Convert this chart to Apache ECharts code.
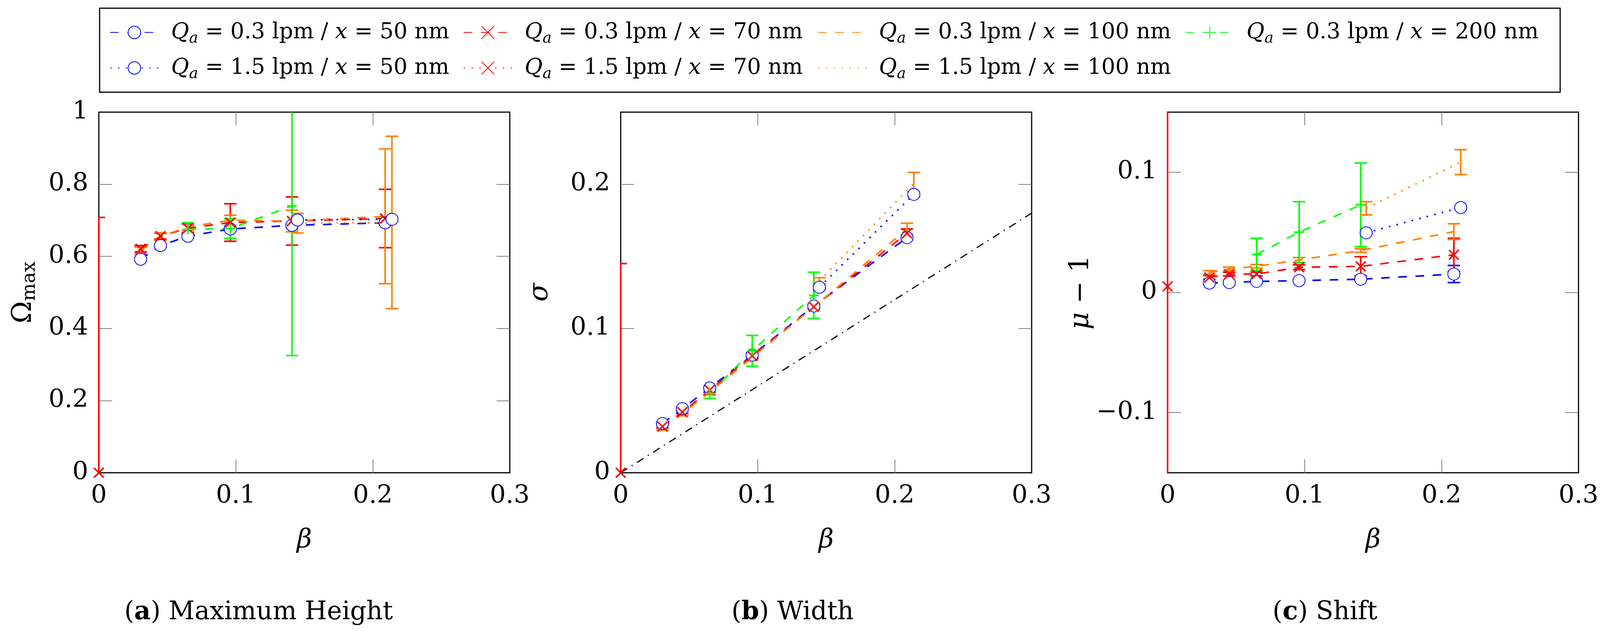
<!DOCTYPE html>
<html>
<head>
<meta charset="utf-8">
<title>Peak height, width and shift vs beta</title>
<script src="https://cdn.jsdelivr.net/npm/echarts@6/dist/echarts.min.js"></script>
<style>
  html, body { margin: 0; padding: 0; background: #fff; overflow: hidden; }
  #chart { width: 100vw; height: 100vh; }
</style>
</head>
<body>
<div id="chart"></div>
<script>
// beta positions of the measurements
var betaSlow = [0.0305, 0.045, 0.065, 0.096, 0.141, 0.209];   // Qa = 0.3 lpm
var betaGreen = [0.065, 0.096, 0.141];                        // Qa = 0.3 lpm, x = 200 nm
var betaFast = [0.145, 0.214];                                // Qa = 1.5 lpm
var betaZero = [0];                                           // Qa = 1.5 lpm, x = 70 nm

// legend entries
var flowLabels = ['0.3', '0.3', '0.3', '0.3', '1.5', '1.5', '1.5'];
var sizeLabels = ['50', '70', '100', '200', '50', '70', '100'];

// (a) maximum height  Omega_max
var hQ03x50 = [0.592, 0.630, 0.656, 0.676, 0.686, 0.693];
var hQ03x50Err = [0.004, 0.004, 0.004, 0.004, 0.005, 0.006];
var hQ03x70 = [0.621, 0.656, 0.678, 0.694, 0.698, 0.705];
var hQ03x70Err = [0.009, 0.008, 0.012, 0.052, 0.067, 0.081];
var hQ03x100 = [0.615, 0.655, 0.682, 0.700, 0.698, 0.711];
var hQ03x100Err = [0.010, 0.010, 0.010, 0.014, 0.030, 0.187];
var hQ03x200 = [0.675, 0.677, 0.740];
var hQ03x200Err = [0.018, 0.027, 0.415];
var hQ15x50 = [0.701, 0.703];
var hQ15x50Err = [0.004, 0.004];
var hQ15x70 = [0];
var hQ15x70Err = [0.708];
var hQ15x100 = [0.692, 0.694];
var hQ15x100Err = [0.027, 0.239];

// (b) width  sigma
var wQ03x50 = [0.0341, 0.0444, 0.0588, 0.0815, 0.1156, 0.1630];
var wQ03x50Err = [0.0012, 0.0012, 0.0012, 0.0015, 0.0015, 0.0015];
var wQ03x70 = [0.0320, 0.0420, 0.0573, 0.0810, 0.1150, 0.1660];
var wQ03x70Err = [0.0010, 0.0010, 0.0015, 0.0020, 0.0020, 0.0030];
var wQ03x100 = [0.0310, 0.0410, 0.0560, 0.0800, 0.1150, 0.1690];
var wQ03x100Err = [0.0015, 0.0015, 0.0020, 0.0020, 0.0020, 0.0040];
var wQ03x200 = [0.0550, 0.0845, 0.1230];
var wQ03x200Err = [0.0035, 0.0107, 0.0160];
var wQ15x50 = [0.1286, 0.1930];
var wQ15x50Err = [0.0015, 0.0015];
var wQ15x70 = [0];
var wQ15x70Err = [0.145];
var wQ15x100 = [0.1330, 0.2005];
var wQ15x100Err = [0.0022, 0.0077];
// dash-dotted reference line sigma = 0.6 beta
var refBeta = [0, 0.3];
var refSigma = [0, 0.18];

// (c) shift  mu - 1
var sQ03x50 = [0.0078, 0.0082, 0.0092, 0.0098, 0.0110, 0.0153];
var sQ03x50Err = [0.0010, 0.0010, 0.0010, 0.0010, 0.0010, 0.0071];
var sQ03x70 = [0.0125, 0.0152, 0.0153, 0.0209, 0.0217, 0.0313];
var sQ03x70Err = [0.0015, 0.0015, 0.0015, 0.0020, 0.0080, 0.0138];
var sQ03x100 = [0.0166, 0.0196, 0.0217, 0.0270, 0.0348, 0.0506];
var sQ03x100Err = [0.0015, 0.0015, 0.0015, 0.0020, 0.0015, 0.0065];
var sQ03x200 = [0.0316, 0.0501, 0.0729];
var sQ03x200Err = [0.0135, 0.0254, 0.0348];
var sQ15x50 = [0.0496, 0.0706];
var sQ15x50Err = [0.0010, 0.0010];
var sQ15x70 = [0.005];
var sQ15x70Err = [0.300];
var sQ15x100 = [0.0700, 0.1084];
var sQ15x100Err = [0.0055, 0.0103];

// the layout below is measured on a 4256 x 1633 page; scale it to the real viewport
var sx = window.innerWidth / 4256;
var sy = window.innerHeight / 1633;
function X(v) { return Math.round(v * sx); }
function Y(v) { return Math.round(v * sy); }
function F(v) { return Math.round(v * Math.min(sx, sy)); }

var FONT = 'DejaVu Serif';
var colors = ['#0000ff', '#ff0000', '#ff8000', '#00ff00', '#0000ff', '#ff0000', '#ff8000'];
var DASHED = [22, 22];
var DOTTED = [4, 16];
var CROSS = 'path://M0,0L10,10M10,0L0,10';
var PLUS = 'path://M5,0L5,10M0,5L10,5';
var dashes = [DASHED, DASHED, DASHED, DASHED, DOTTED, DOTTED, DOTTED];
var symbols = ['emptyCircle', CROSS, 'none', PLUS, 'emptyCircle', CROSS, 'none'];
var betas = [betaSlow, betaSlow, betaSlow, betaGreen, betaFast, betaZero, betaFast];
var names = flowLabels.map(function (f, k) {
    return 'Qa = ' + f + ' lpm / x = ' + sizeLabels[k] + ' nm';
});

var panels = [
    {vals: [hQ03x50, hQ03x70, hQ03x100, hQ03x200, hQ15x50, hQ15x70, hQ15x100],
     errs: [hQ03x50Err, hQ03x70Err, hQ03x100Err, hQ03x200Err, hQ15x50Err, hQ15x70Err, hQ15x100Err]},
    {vals: [wQ03x50, wQ03x70, wQ03x100, wQ03x200, wQ15x50, wQ15x70, wQ15x100],
     errs: [wQ03x50Err, wQ03x70Err, wQ03x100Err, wQ03x200Err, wQ15x50Err, wQ15x70Err, wQ15x100Err]},
    {vals: [sQ03x50, sQ03x70, sQ03x100, sQ03x200, sQ15x50, sQ15x70, sQ15x100],
     errs: [sQ03x50Err, sQ03x70Err, sQ03x100Err, sQ03x200Err, sQ15x50Err, sQ15x70Err, sQ15x100Err]}
];

// layout of the three panels
var gridLefts = [263, 1651, 3106];
var yAxes = [
    {min: 0, max: 1, interval: 0.2, ticks: [0.2, 0.4, 0.6, 0.8], name: '{o|Ω}{s|max}', gap: 158},
    {min: 0, max: 0.25, labels: [0, 0.1, 0.2], ticks: [0.1, 0.2], name: '{i|σ}', gap: 172},
    {min: -0.15, max: 0.15, labels: [-0.1, 0, 0.1], ticks: [-0.1, 0, 0.1], name: '{i|μ}{t| − 1}', gap: 185}
];
var captions = [
    {x: 688, text: '{t|(}{b|a}{t|) Maximum Height}'},
    {x: 2108, text: '{t|(}{b|b}{t|) Width}'},
    {x: 3525, text: '{t|(}{b|c}{t|) Shift}'}
];

function fmt(v) {
    return v < 0 ? '−' + (-v) : String(v);
}

// vertical error bar with caps, kept inside the plot box
function errorBars(color) {
    return function (params, api) {
        var cs = params.coordSys;
        var top = cs.y, bot = cs.y + cs.height, left = cs.x, right = cs.x + cs.width;
        var lo = api.coord([api.value(0), api.value(1)]);
        var hi = api.coord([api.value(0), api.value(2)]);
        var hw = X(17);
        var st = {stroke: color, lineWidth: 4, fill: null};
        var clampY = function (y) { return Math.min(Math.max(y, top), bot); };
        var kids = [{type: 'line', shape: {x1: lo[0], y1: clampY(lo[1]), x2: hi[0], y2: clampY(hi[1])}, style: st}];
        [lo, hi].forEach(function (pt) {
            if (pt[1] >= top && pt[1] <= bot) {
                kids.push({type: 'line', style: st, shape: {
                    x1: Math.max(pt[0] - hw, left), y1: pt[1],
                    x2: Math.min(pt[0] + hw, right), y2: pt[1]}});
            }
        });
        return {type: 'group', children: kids};
    };
}

var grids = [], xAxis = [], yAxis = [], series = [], graphic = [];
var labelStyle = {fontFamily: FONT, fontSize: F(67), color: '#000'};
var tickStyle = {show: true, inside: true, length: 34, lineStyle: {color: '#808080', width: 2}};

gridLefts.forEach(function (left, p) {
    grids.push({left: X(left), top: Y(287), width: X(1093), height: Y(923), show: true,
                borderColor: '#000', borderWidth: 3});
    ['bottom', 'top'].forEach(function (pos) {
        xAxis.push({
            type: 'value', gridIndex: p, position: pos, min: 0, max: 0.3, interval: 0.1,
            axisLine: {show: false, onZero: false}, splitLine: {show: false},
            axisTick: Object.assign({customValues: [0.1, 0.2]}, tickStyle),
            axisLabel: Object.assign({show: pos === 'bottom', margin: Y(28), formatter: fmt}, labelStyle),
            name: pos === 'bottom' ? 'β' : '', nameLocation: 'middle', nameGap: Y(140),
            nameTextStyle: {fontFamily: FONT, fontStyle: 'italic', fontSize: F(70), color: '#000'}
        });
    });
    var ya = yAxes[p];
    ['left', 'right'].forEach(function (pos) {
        var label = Object.assign({show: pos === 'left', margin: X(28), formatter: fmt}, labelStyle);
        if (ya.labels) label.customValues = ya.labels;
        var ax = {
            type: 'value', gridIndex: p, position: pos, min: ya.min, max: ya.max,
            axisLine: {show: false, onZero: false}, splitLine: {show: false},
            axisTick: Object.assign({customValues: ya.ticks}, tickStyle),
            axisLabel: label,
            name: pos === 'left' ? ya.name : '', nameLocation: 'middle', nameRotate: 90, nameGap: X(ya.gap),
            nameTextStyle: {
                color: '#000',
                rich: {
                    o: {fontFamily: FONT, fontSize: F(72), lineHeight: F(82)},
                    s: {fontFamily: FONT, fontSize: F(50), lineHeight: F(44), verticalAlign: 'bottom'},
                    i: {fontFamily: FONT, fontStyle: 'italic', fontSize: F(72), lineHeight: F(82)},
                    t: {fontFamily: FONT, fontSize: F(72), lineHeight: F(82)}
                }
            }
        };
        if (ya.interval) ax.interval = ya.interval;
        yAxis.push(ax);
    });

    if (p === 1) {
        series.push({
            type: 'line', xAxisIndex: 2, yAxisIndex: 2, symbol: 'none', silent: true, z: 1,
            lineStyle: {color: '#000', width: 3, type: [20, 13, 3, 13]},
            data: refBeta.map(function (b, j) { return [b, refSigma[j]]; })
        });
    }

    for (var k = 0; k < 7; k++) {
        var vals = panels[p].vals[k], errs = panels[p].errs[k];
        var noMark = symbols[k] === 'none';
        series.push({
            name: names[k], type: 'line', xAxisIndex: 2 * p, yAxisIndex: 2 * p,
            symbol: noMark ? 'circle' : symbols[k],
            symbolSize: symbols[k] === 'emptyCircle' ? 31 : 25,
            showSymbol: !noMark, clip: false,
            lineStyle: {color: colors[k], width: 4, type: dashes[k]},
            itemStyle: noMark ? {color: 'rgba(0,0,0,0)', borderWidth: 0}
                              : {color: colors[k], borderColor: colors[k], borderWidth: 4},
            emphasis: {disabled: true},
            data: betas[k].map(function (b, j) { return [b, vals[j]]; })
        });
        series.push({
            type: 'custom', xAxisIndex: 2 * p, yAxisIndex: 2 * p, clip: false, silent: true,
            renderItem: errorBars(colors[k]),
            encode: {x: 0, y: [1, 2]},
            data: betas[k].map(function (b, j) { return [b, vals[j] - errs[j], vals[j] + errs[j]]; })
        });
    }

    graphic.push({
        type: 'text', x: X(captions[p].x), y: Y(1568),
        style: {
            text: captions[p].text, align: 'center', verticalAlign: 'middle',
            rich: {
                t: {fontFamily: FONT, fontSize: F(68), fill: '#000'},
                b: {fontFamily: FONT, fontSize: F(68), fontWeight: 'bold', fill: '#000'}
            }
        }
    });
});

// legend frame
graphic.push({
    type: 'rect', shape: {x: X(265), y: Y(21), width: X(3885), height: Y(215)},
    style: {fill: null, stroke: '#000', lineWidth: 3}
});

var legendLefts = [292, 1232, 2175, 3152, 292, 1232, 2175];
var legendTops = [55, 55, 55, 55, 146, 146, 146];
var legendRich = {
    i: {fontFamily: FONT, fontStyle: 'italic', fontSize: F(58), lineHeight: 70, color: '#000'},
    s: {fontFamily: FONT, fontStyle: 'italic', fontSize: F(41), lineHeight: 40, verticalAlign: 'bottom', color: '#000'},
    t: {fontFamily: FONT, fontSize: F(58), lineHeight: 70, color: '#000'}
};
var legends = names.map(function (n, k) {
    return {
        data: [n], left: X(legendLefts[k]), top: Y(legendTops[k]), padding: 0,
        itemWidth: X(129), itemHeight: 40, selectedMode: false,
        textStyle: {color: '#000', rich: legendRich, padding: [0, 0, 0, X(28)]},
        formatter: function (name) {
            var i = names.indexOf(name);
            return '{i|Q}{s|a}{t| = ' + flowLabels[i] + ' lpm / }{i|x}{t| = ' + sizeLabels[i] + ' nm}';
        }
    };
});

var myChart = echarts.init(document.getElementById('chart'));
myChart.setOption({
    backgroundColor: '#fff',
    animation: false,
    grid: grids,
    xAxis: xAxis,
    yAxis: yAxis,
    legend: legends,
    graphic: graphic,
    series: series
});
</script>
</body>
</html>
